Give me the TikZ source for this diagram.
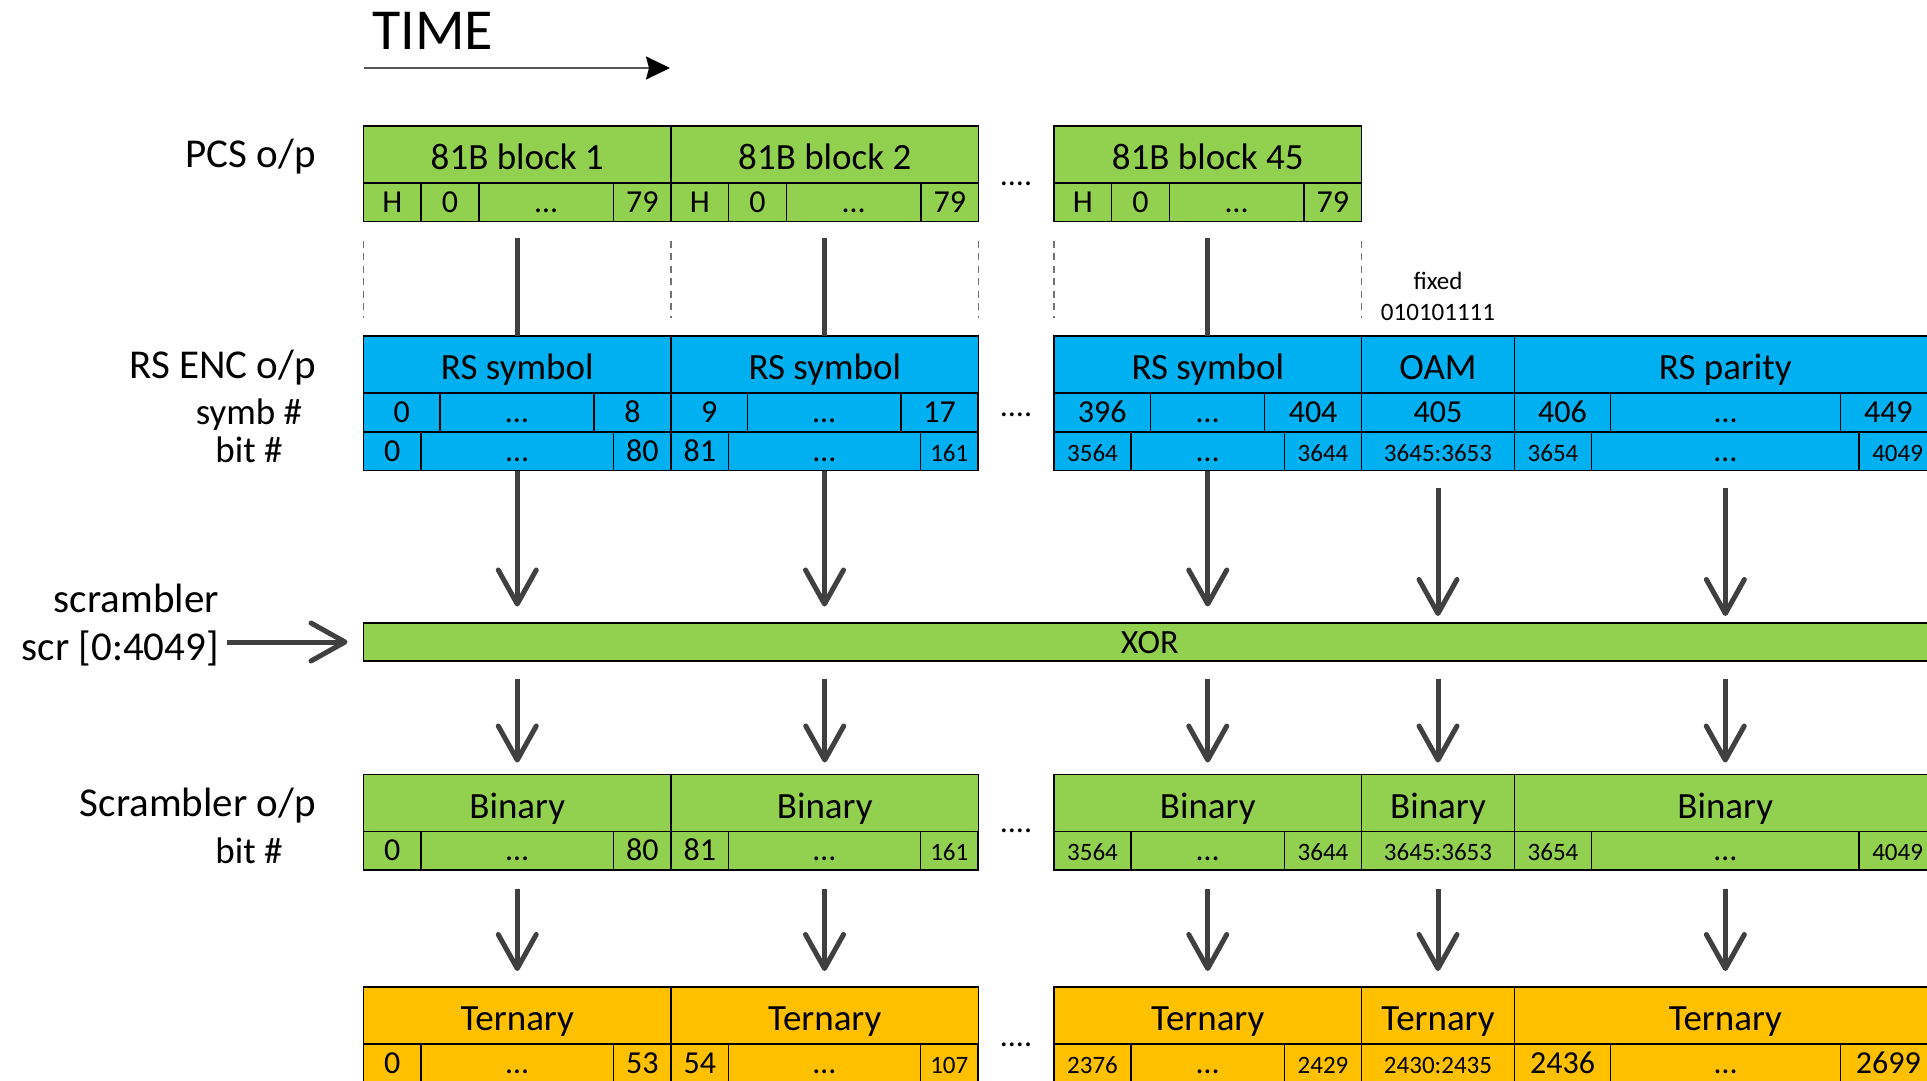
\documentclass[tikz,border=0pt]{standalone}
\usepackage{fontspec}
\setmainfont{Carlito}
\usetikzlibrary{arrows.meta,calc}
\definecolor{pcsgreen}{RGB}{146, 208, 80}
\definecolor{rsblue}{RGB}{0, 176, 240}
\definecolor{ternorange}{RGB}{255, 192, 0}
\definecolor{flowgray}{RGB}{64, 64, 64}
\newcommand{\sm}{\fontsize{25}{28}\selectfont}

\begin{document}
\begin{tikzpicture}[x=1pt, y=-1pt,
         cell/.style = {draw=black, line width=1.5pt, anchor=north west, inner sep=0pt, outer sep=0pt, text depth=0pt},
         head/.style = {cell, minimum height=57pt, text height=30pt, font=\fontsize{37}{40}\selectfont},
          sub/.style = {cell, minimum height=38.5pt, text height=20pt, font=\fontsize{32}{36}\selectfont},
        label/.style = {anchor=base east, inner sep=0pt, font=\fontsize{41}{46}\selectfont},
     sublabel/.style = {anchor=base, inner sep=0pt, font=\fontsize{37}{40}\selectfont},
         more/.style = {anchor=base, inner sep=0pt, font=\fontsize{32}{36}\selectfont},
         flow/.style = {draw=flowgray, line width=5pt, -{Straight Barb[round, length=34pt, width=38pt]}},
         link/.style = {draw=flowgray, line width=5pt},
        guide/.style = {draw=black!55, line width=1.5pt, dash pattern=on 7pt off 5.5pt},
     timeline/.style = {draw=black!65, line width=2pt, -{Stealth[length=24pt, width=23pt, inset=3pt, color=black, fill=black]}}]

\useasboundingbox (0,0) rectangle (1927,1081);
\clip (0,0) rectangle (1927,1081);

% time axis
\node[anchor=base west, inner sep=0pt, font=\fontsize{58}{64}\selectfont] (time) at (372,49) {TIME};
\coordinate (t0) at (364,68);
\coordinate (t1) at (670,68);
\draw[timeline] (t0) -- (t1);

% row labels
\node[label] (lpcs) at (316,167.5) {PCS o/p};
\node[label] (lrs) at (316,378) {RS ENC o/p};
\node[sublabel] (lsym) at (249,424) {symb \#};
\node[sublabel] (lbit) at (249,462) {bit \#};
\node[label] (lscr) at (219,612) {scrambler};
\node[label] (scr) at (219,660) {scr [0:4049]};
\node[label] (lbin) at (316,816) {Scrambler o/p};
\node[sublabel] (lbbit) at (249,863) {bit \#};

% PCS output
\foreach \b/\X/\t in {1/363.5/81B block 1, 2/671/81B block 2, 3/1054/81B block 45} {
  \node[head, fill=pcsgreen, minimum width=307.5pt] (pcs\b) at (\X,126) {\t};
  \foreach \c/\dx/\w/\v in {1/0/57.5/H, 2/57.5/58/0, 3/115.5/134.5/…, 4/250/57.5/79}
    \node[sub, fill=pcsgreen, minimum width=\w pt] (pcs\b-\c) at (\X+\dx,183) {\v};
}

% RS encoder output
\foreach \n/\x/\w/\t in {1/363.5/307.5/RS symbol, 2/671/307.5/RS symbol, 3/1054/307.5/RS symbol, oam/1361.5/153/OAM, par/1514.5/421.5/RS parity}
  \node[head, fill=rsblue, minimum width=\w pt] (rs\n) at (\x,336) {\t};
\foreach \n/\x/\w/\v in {1a/363.5/76.5/0, 1b/440/154/…, 1c/594/77/8, 2a/671/76.5/9, 2b/747.5/153.5/…, 2c/901/77/17, 3a/1054/96.6/396, 3b/1150.6/114.1/…, 3c/1264.7/96.8/404, oam/1361.5/153/405, pa/1514.5/96.1/406, pb/1610.6/230.1/…, pc/1840.7/95.3/449}
  \node[sub, fill=rsblue, minimum width=\w pt] (sym\n) at (\x,393) {\v};
\foreach \n/\x/\w/\v in {1a/363.5/57.5/0, 1b/421/192.5/…, 1c/613.5/57.5/80, 2a/671/57.5/81, 2b/728.5/192/…, 2c/920.5/57.5/\sm 161, 3a/1054/77/\sm 3564, 3b/1131/153.5/…, 3c/1284.5/77/\sm 3644, oam/1361.5/153/\sm 3645:3653, pa/1514.5/77/\sm 3654, pb/1591.5/267.7/…, pc/1859.2/76.8/\sm 4049}
  \node[sub, fill=rsblue, minimum width=\w pt] (bit\n) at (\x,432) {\v};

% fixed OAM pattern
\node[anchor=base, inner sep=0pt, font=\sm] (fixed) at (1438,289.5) {fixed};
\node[anchor=base, inner sep=0pt, font=\sm] (pattern) at (1438,320) {010101111};

% scrambler
\node[cell, fill=pcsgreen, minimum width=1572.5pt, minimum height=38pt, text height=22pt, font=\fontsize{34}{38}\selectfont] (xor) at (363.5,623) {XOR};

% scrambler output and ternary
\foreach \r/\y/\c/\t in {bin/774.5/pcsgreen/Binary, ter/987/ternorange/Ternary}
  \foreach \n/\x/\w in {1/363.5/307.5, 2/671/307.5, 3/1054/307.5, oam/1361.5/153, par/1514.5/421.5}
    \node[head, fill=\c, minimum width=\w pt] (\r\n) at (\x,\y) {\t};
\foreach \n/\x/\w/\v in {1a/363.5/57.5/0, 1b/421/192.5/…, 1c/613.5/57.5/80, 2a/671/57.5/81, 2b/728.5/192/…, 2c/920.5/57.5/\sm 161, 3a/1054/77/\sm 3564, 3b/1131/153.5/…, 3c/1284.5/77/\sm 3644, oam/1361.5/153/\sm 3645:3653, pa/1514.5/77/\sm 3654, pb/1591.5/267.7/…, pc/1859.2/76.8/\sm 4049}
  \node[sub, fill=pcsgreen, minimum width=\w pt] (bb\n) at (\x,831.5) {\v};
\foreach \n/\x/\w/\v in {1a/363.5/57.5/0, 1b/421/192.5/…, 1c/613.5/57.5/53, 2a/671/57.5/54, 2b/728.5/192/…, 2c/920.5/57.5/\sm 107, 3a/1054/77/\sm 2376, 3b/1131/153.5/…, 3c/1284.5/77/\sm 2429, oam/1361.5/153/\sm 2430:2435, pa/1514.5/96.1/2436, pb/1610.6/230.1/…, pc/1840.7/95.3/2699}
  \node[sub, fill=ternorange, minimum width=\w pt] (tb\n) at (\x,1044) {\v};

% gaps between blocks
\foreach \n/\y in {pcs/185, rs/416, bin/832, ter/1046}
  \node[more] (more\n) at (1016,\y) {....};

% guides and links
\foreach \p in {pcs1-1.south west, pcs1-4.south east, pcs2-4.south east, pcs3-1.south west, pcs3-4.south east}
  \draw[guide] ($(\p)+(0,19)$) -- ++(0,77);
\foreach \b in {1,2,3}
  \draw[link] ($(rs\b.north)+(0,-98)$) -- (rs\b.north);

% flow arrows
\foreach \c in {1b,2b,3b}
  \draw[flow, shorten >=16.5pt] (bit\c.south) -- (bit\c.south |- xor.north);
\foreach \c in {oam,pb}
  \draw[flow, shorten <=17pt, shorten >=7pt] (bit\c.south) -- (bit\c.south |- xor.north);
\foreach \n in {1,2,3,oam,par}
  \draw[flow, shorten <=17.5pt, shorten >=12pt] (xor.south -| bin\n.north) -- (bin\n.north);
\foreach \c in {1b,2b,3b,oam,pb}
  \draw[flow, shorten <=18.5pt, shorten >=16pt] (bb\c.south) -- (bb\c.south |- ter1.north);
\draw[flow, shorten <=8pt, shorten >=16pt] (scr.east |- xor.west) -- (xor.west);
\end{tikzpicture}
\end{document}
